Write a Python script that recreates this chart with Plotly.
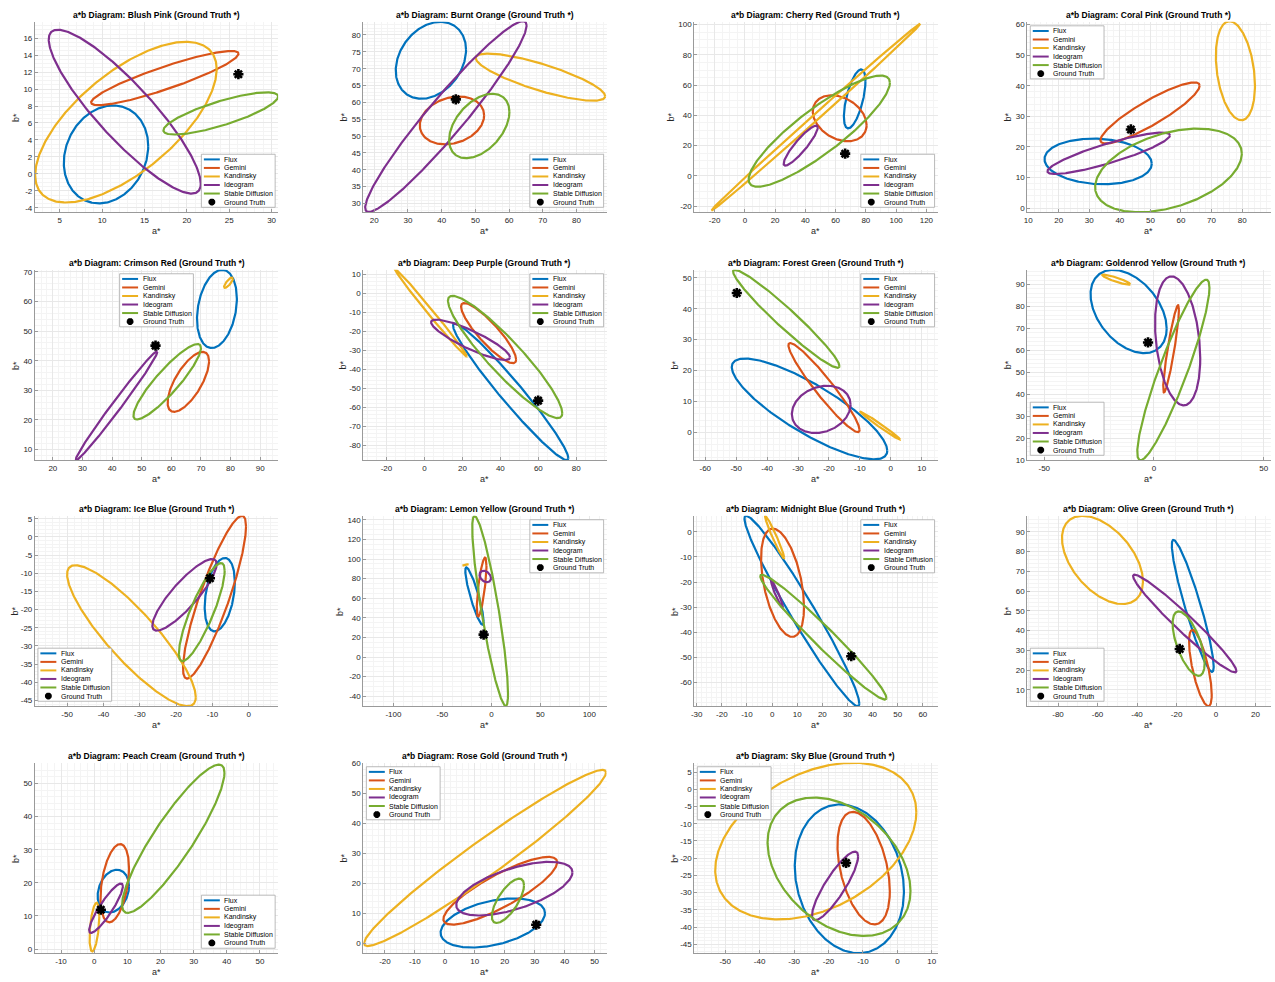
import numpy as np
import plotly.graph_objects as go

FIG_W, FIG_H = 1275, 982

# ---------------- data ----------------
panel_names = ["Blush Pink", "Burnt Orange", "Cherry Red", "Coral Pink",
               "Crimson Red", "Deep Purple", "Forest Green", "Goldenrod Yellow",
               "Ice Blue", "Lemon Yellow", "Midnight Blue", "Olive Green",
               "Peach Cream", "Rose Gold", "Sky Blue"]
model_names = ["Flux", "Gemini", "Kandinsky", "Ideogram", "Stable Diffusion"]

# per panel, per model: (Flux, Gemini, Kandinsky, Ideogram, Stable Diffusion)
mean_a = [
    [10.46, 17.4, 12.81, 12.67, 24.0],
    [36.8, 43.05, 69.3, 41.25, 51.15],
    [72.6, 62.7, 47.0, 36.9, 49.2],
    [32.9, 49.87, 77.8, 36.35, 55.9],
    [75.4, 65.74, 79.3, 41.5, 58.6],
    [45.45, 33.8, 3.35, 24.3, 42.5],
    [-26.28, -21.6, -3.4, -22.5, -33.8],
    [-11.55, 7.8, -17.15, 10.8, 8.85],
    [-8.0, -9.45, -32.3, -17.7, -12.95],
    [-17.25, -9.95, -26.35, -6.2, -1.25],
    [11.85, 4.15, 1.0, 1.95, 20.4],
    [-11.8, -7.95, -57.5, -15.85, -13.9],
    [5.77, 6.2, 0.07, 3.56, 23.85],
    [16.0, 18.5, 13.4, 23.2, 21.05],
    [-13.95, -9.8, -23.7, -18.1, -16.95],
]
mean_b = [
    [2.29, 11.3, 6.1, 7.34, 7.13],
    [72.5, 54.65, 67.5, 55.8, 53.0],
    [50.9, 38.1, 38.9, 20.0, 29.6],
    [15.24, 31.1, 44.9, 17.9, 12.3],
    [57.5, 32.87, 66.35, 24.8, 32.9],
    [-52.0, -21.05, -10.25, -24.55, -33.6],
    [7.6, 14.5, 2.2, 7.45, 36.75],
    [77.7, 60.7, 92.2, 64.3, 51.05],
    [-15.9, -16.6, -27.2, -15.95, -20.7],
    [62.2, 71.4, 94.0, 82.25, 47.0],
    [-31.5, -20.25, -2.05, -24.8, -41.9],
    [52.5, 21.0, 75.75, 43.55, 33.4],
    [17.5, 19.9, 6.65, 12.35, 33.3],
    [6.8, 17.55, 28.5, 18.25, 14.2],
    [-26.0, -22.9, -15.05, -28.05, -22.5],
]
spread_a = [
    [4.98, 8.7, 10.71, 8.97, 6.77],
    [10.43, 9.55, 19.2, 23.95, 8.95],
    [7.13, 17.8, 69.0, 11.26, 46.7],
    [17.55, 16.23, 6.4, 20.05, 24.0],
    [6.73, 7.0, 1.5, 13.8, 11.4],
    [30.35, 14.5, 18.95, 20.8, 30.1],
    [25.15, 11.5, 6.4, 9.5, 17.2],
    [17.35, 3.6, 6.35, 10.3, 16.45],
    [4.15, 8.68, 17.7, 8.85, 6.3],
    [9.35, 4.95, 3.15, 5.85, 18.25],
    [22.85, 8.55, 3.8, 2.35, 25.1],
    [10.6, 5.75, 20.5, 26.15, 8.1],
    [4.73, 4.3, 1.47, 5.09, 15.45],
    [17.43, 19.0, 40.4, 19.4, 5.38],
    [15.85, 7.6, 29.2, 6.7, 20.75],
]
spread_b = [
    [5.78, 3.2, 9.48, 9.67, 2.49],
    [11.42, 7.1, 7.0, 28.3, 9.56],
    [19.5, 15.2, 61.7, 13.2, 36.75],
    [7.46, 10.0, 16.2, 6.77, 13.67],
    [13.2, 10.13, 1.75, 18.4, 12.73],
    [35.95, 15.85, 23.1, 10.65, 32.2],
    [16.3, 14.4, 4.5, 7.65, 15.85],
    [19.0, 19.9, 2.3, 29.4, 41.15],
    [10.1, 22.4, 19.4, 9.85, 13.5],
    [29.3, 30.1, 0.8, 5.85, 97.0],
    [37.9, 21.55, 8.45, 5.5, 24.85],
    [33.4, 19.3, 22.35, 24.75, 16.3],
    [6.45, 11.8, 7.35, 7.45, 22.36],
    [8.2, 11.3, 29.4, 8.95, 7.4],
    [21.6, 16.35, 22.75, 9.95, 20.1],
]
corr_ab = [
    [0.17, 0.9, 0.66, -0.88, 0.8],
    [0.27, 0.21, -0.81, 0.955, 0.435],
    [0.6, -0.3, 0.999, 0.9, 0.87],
    [-0.1, 0.89, -0.3, 0.87, 0.4],
    [0.26, 0.69, 0.8, 0.99, 0.895],
    [-0.97, -0.88, -0.995, -0.87, -0.92],
    [-0.83, -0.95, -0.99, 0.2, -0.965],
    [-0.41, 0.9, -0.9, -0.27, 0.91],
    [0.34, 0.87, -0.87, 0.86, 0.84],
    [-0.88, 0.72, 0.9, -0.3, -0.87],
    [-0.97, -0.45, -0.97, -0.95, -0.975],
    [-0.92, -0.7, -0.49, -0.97, -0.62],
    [0.23, 0.38, 0.45, 0.89, 0.89],
    [0.4, 0.84, 0.97, 0.61, 0.7],
    [-0.17, -0.41, 0.37, 0.86, -0.35],
]
truth_a = [26.08, 44.2, 66.3, 43.6, 54.66, 59.9, -49.8, -2.7,
           -10.7, -7.9, 31.5, -18.4, 2.0, 30.5, -14.9]
truth_b = [11.76, 60.9, 14.7, 25.7, 45.1, -56.6, 45.1, 63.6,
           -11.4, 22.9, -49.5, 30.7, 11.9, 6.2, -21.4]

# axis limits and tick steps
x_limits = [[2.14, 30.7], [17.1, 88.6], [-33, 127], [10.1, 88.9],
            [14.6, 95.4], [-31.6, 95.4], [-62.6, 14.2], [-56, 51.4],
            [-58.3, 7.5], [-130, 117], [-30, 64.9], [-94.1, 26.1],
            [-17.7, 55.3], [-27, 53.8], [-58.4, 11.1]]
y_limits = [[-4.5, 17.9], [27.4, 83.9], [-22.8, 100.6], [-1.4, 60.9],
            [6.4, 70.7], [-88, 12.3], [-9.0, 52.6], [9.9, 96.7],
            [-46.6, 5.8], [-50, 144], [-69.4, 6.4], [1.7, 98.1],
            [-0.7, 55.7], [-3.1, 60.1], [-47.6, 7.7]]
x_tick_step = [5, 10, 20, 10, 10, 20, 10, 50, 10, 50, 10, 20, 10, 10, 10]
y_tick_step = [2, 5, 20, 10, 10, 10, 10, 10, 5, 20, 10, 10, 10, 10, 5]

# ---------------- styling / layout ----------------
model_colors = ["#0072BD", "#D95319", "#EDB120", "#7E2F8E", "#77AC30"]
FONT = "Liberation Sans, Arial, Helvetica, sans-serif"
col_left = [31, 360.5, 692.5, 1026.5]
row_top = [19, 269, 517, 766]
BOX_W, BOX_H = 244, 192
legend_loc = ["se", "se", "se", "nw", "custom", "ne", "ne", "sw",
              "sw", "ne", "ne", "sw", "se", "nw", "nw"]
ylabel_gap = [19, 19, 23, 19, 19, 20, 19, 19, 19.5, 23.5, 19.5, 19, 19, 19, 19.5]


def px(x):
    return x / FIG_W


def py(y):
    return 1 - y / FIG_H


def minor_step(step):
    return step / 4 if step in (2, 20) else step / 5


def tick_list(lim, step):
    lo, hi = lim
    span = hi - lo
    start = np.ceil((lo - span) / step) * step
    vals = np.arange(start, hi + span + step / 2, step)
    vals = [float(round(v, 6)) for v in vals]
    texts = [("%g" % v) for v in vals]
    return vals, texts


fig = go.Figure()
t = np.linspace(0, 2 * np.pi, 361)
shapes, annotations = [], []
layout_axes = {}

for i, name in enumerate(panel_names):
    r, c = divmod(i, 4)
    left, top = col_left[c], row_top[r]
    right, bottom = left + BOX_W, top + BOX_H
    xa = "x" if i == 0 else f"x{i+1}"
    ya = "y" if i == 0 else f"y{i+1}"

    for k, m in enumerate(model_names):
        ma, mb = mean_a[i][k], mean_b[i][k]
        sa, sb, rho = spread_a[i][k], spread_b[i][k], corr_ab[i][k]
        ex = ma + sa * np.cos(t)
        ey = mb + sb * (rho * np.cos(t) + np.sqrt(1 - rho ** 2) * np.sin(t))
        fig.add_trace(go.Scatter(x=ex, y=ey, mode="lines", name=m,
                                 line=dict(color=model_colors[k], width=2.2),
                                 xaxis=xa, yaxis=ya, showlegend=False,
                                 hoverinfo="skip"))
    fig.add_trace(go.Scatter(x=[truth_a[i]], y=[truth_b[i]], mode="markers",
                             name="Ground Truth",
                             marker=dict(symbol="asterisk-open", size=8.5,
                                         color="black",
                                         line=dict(color="black", width=2.6)),
                             xaxis=xa, yaxis=ya, showlegend=False))

    xv, xt = tick_list(x_limits[i], x_tick_step[i])
    yv, yt = tick_list(y_limits[i], y_tick_step[i])
    common = dict(showline=True, linecolor="#9a9a9a", linewidth=1,
                  ticks="inside", ticklen=3, tickcolor="#9a9a9a",
                  showgrid=True, gridcolor="#e8e8e8", gridwidth=1,
                  zeroline=False, tickmode="array",
                  tickfont=dict(family=FONT, size=8, color="#262626"),
                  mirror=False)
    layout_axes["xaxis" if i == 0 else f"xaxis{i+1}"] = dict(
        common, domain=[px(left), px(right)], range=x_limits[i],
        anchor=ya, tickvals=xv, ticktext=xt,
        minor=dict(showgrid=True, tick0=0, dtick=minor_step(x_tick_step[i]),
                   gridcolor="#f4f4f4", gridwidth=1))
    layout_axes["yaxis" if i == 0 else f"yaxis{i+1}"] = dict(
        common, domain=[py(bottom), py(top)], range=y_limits[i],
        anchor=xa, tickvals=yv, ticktext=yt,
        scaleanchor=xa, scaleratio=1, constrain="range",
        minor=dict(showgrid=True, tick0=0, dtick=minor_step(y_tick_step[i]),
                   gridcolor="#f4f4f4", gridwidth=1))

    # title and axis labels
    cx = (left + right) / 2
    annotations.append(dict(text=f"<b>a*b Diagram: {name} (Ground Truth *)</b>",
                            x=px(cx), y=py(top - 6.5), xref="paper", yref="paper",
                            xanchor="center", yanchor="middle", showarrow=False,
                            font=dict(family=FONT, size=8.5, color="black")))
    annotations.append(dict(text="a*", x=px(cx), y=py(bottom + 18.5),
                            xref="paper", yref="paper", xanchor="center",
                            yanchor="middle", showarrow=False,
                            font=dict(family=FONT, size=9, color="#262626")))
    annotations.append(dict(text="b*", x=px(left - ylabel_gap[i]),
                            y=py((top + bottom) / 2), xref="paper", yref="paper",
                            xanchor="center", yanchor="middle", showarrow=False,
                            textangle=-90,
                            font=dict(family=FONT, size=9, color="#262626")))

    # legend box
    LW, LH = 74, 53.5
    loc = legend_loc[i]
    if loc == "se":
        lx, ly = right - 3 - LW, bottom - 5 - LH
    elif loc == "sw":
        lx, ly = left + 3, bottom - 5 - LH
    elif loc == "ne":
        lx, ly = right - 3 - LW, top + 4
    elif loc == "nw":
        lx, ly = left + 3, top + 4
    else:
        lx, ly = left + 85, top + 4
    shapes.append(dict(type="rect", xref="paper", yref="paper",
                       x0=px(lx), x1=px(lx + LW), y0=py(ly), y1=py(ly + LH),
                       fillcolor="white", line=dict(color="#a8a8a8", width=0.8),
                       layer="above"))
    labels = model_names + ["Ground Truth"]
    for k, lab in enumerate(labels):
        yy = ly + 5.2 + k * 8.6
        if k < 5:
            shapes.append(dict(type="line", xref="paper", yref="paper",
                               x0=px(lx + 2.5), x1=px(lx + 18.5),
                               y0=py(yy), y1=py(yy),
                               line=dict(color=model_colors[k], width=2),
                               layer="above"))
        else:
            gx, gy, s = lx + 10.5, yy, 3.4
            d = s * 0.7071
            path = (f"M{px(gx - s)},{py(gy)} L{px(gx + s)},{py(gy)} "
                    f"M{px(gx)},{py(gy - s)} L{px(gx)},{py(gy + s)} "
                    f"M{px(gx - d)},{py(gy - d)} L{px(gx + d)},{py(gy + d)} "
                    f"M{px(gx - d)},{py(gy + d)} L{px(gx + d)},{py(gy - d)}")
            shapes.append(dict(type="path", xref="paper", yref="paper",
                               path=path, line=dict(color="black", width=2.4),
                               layer="above"))
        annotations.append(dict(text=lab, x=px(lx + 21), y=py(yy),
                                xref="paper", yref="paper", xanchor="left",
                                yanchor="middle", showarrow=False,
                                font=dict(family=FONT, size=7, color="black")))

fig.update_layout(width=FIG_W, height=FIG_H, autosize=False,
                  margin=dict(l=0, r=0, t=0, b=0),
                  paper_bgcolor="white", plot_bgcolor="white",
                  showlegend=False, shapes=shapes, annotations=annotations,
                  font=dict(family=FONT), **layout_axes)

fig.write_html("out.html")
